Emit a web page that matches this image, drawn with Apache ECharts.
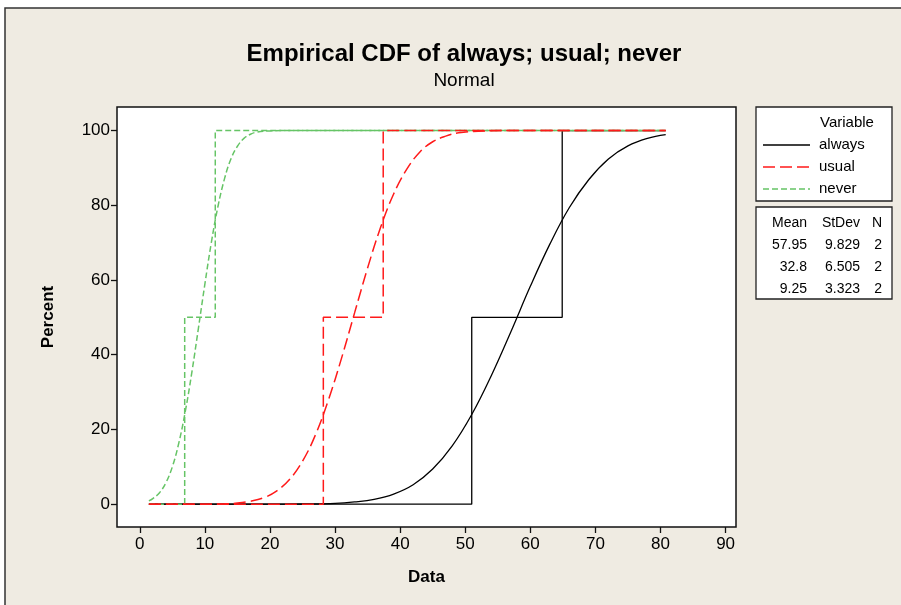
<!DOCTYPE html>
<html>
<head>
<meta charset="utf-8">
<script src="https://cdn.jsdelivr.net/npm/echarts@6/dist/echarts.min.js"></script>
<style>
  html, body { margin: 0; padding: 0; background: #ffffff; }
  #chart { width: 901px; height: 605px; }
</style>
</head>
<body>
<div id="chart"></div>
<script>
// tick labels
const xTicks = [0, 10, 20, 30, 40, 50, 60, 70, 80, 90];
const yTicks = [0, 20, 40, 60, 80, 100];

// empirical CDF steps (two observations each)
const stepY = [0, 0, 50, 50, 100, 100];
const alwaysStepX = [1.4, 51.0, 51.0, 64.9, 64.9, 80.8];
const usualStepX = [1.4, 28.2, 28.2, 37.4, 37.4, 80.8];
const neverStepX = [1.4, 6.9, 6.9, 11.6, 11.6, 80.8];

// fitted normal curves
const alwaysFitX = [1.4, 10, 20, 25, 30, 33, 36, 39, 42, 45, 48, 51, 54, 57, 60, 63, 66, 69, 72, 75, 78, 80.8];
const alwaysFitY = [0, 0, 0, 0.05, 0.2, 0.6, 1.3, 2.7, 5.2, 9.4, 15.6, 24.0, 34.4, 46.1, 58.3, 69.6, 79.4, 86.9, 92.4, 95.9, 97.9, 98.9];
const usualFitX = [1.4, 5, 9, 13, 15, 17, 19, 21, 23, 25, 27, 29, 31, 33, 35, 37, 39, 41, 43, 45, 47, 49, 52, 56, 62, 70, 80.8];
const usualFitY = [0, 0, 0, 0.1, 0.3, 0.8, 1.7, 3.5, 6.6, 11.5, 18.6, 28.0, 39.1, 51.2, 63.2, 74.1, 83.0, 89.6, 94.2, 97.0, 98.5, 99.4, 99.8, 100, 100, 100, 100];
const neverFitX = [1.4, 2, 3, 4, 5, 6, 7, 8, 9, 10, 11, 12, 13, 14, 15, 16, 17, 18, 20, 22, 26, 32, 40, 55, 80.8];
const neverFitY = [0.9, 1.5, 3.0, 5.7, 10.0, 16.4, 24.9, 35.3, 47.0, 58.9, 70.1, 79.6, 87.0, 92.4, 95.8, 97.9, 99.0, 99.6, 99.9, 100, 100, 100, 100, 100, 100];

// legend table
const varNames = ["always", "usual", "never"];
const statHeader = ["Mean", "StDev", "N"];
const meanVals = ["57.95", "32.8", "9.25"];
const stdevVals = ["9.829", "6.505", "3.323"];
const nVals = ["2", "2", "2"];

const FONT = "Liberation Sans, Arial, sans-serif";
const styles = {
  always: { color: "#000000", type: "solid", width: 1.3 },
  usual: { color: "#ff1a1a", type: [12, 5], width: 1.5 },
  never: { color: "#66c466", type: [6, 3], width: 1.5 },
};

const zip = (xs, ys) => xs.map((x, i) => [x, ys[i]]);

function lineSeries(name, xs, ys, fit) {
  return {
    name: name,
    type: "line",
    data: zip(xs, ys),
    showSymbol: false,
    smooth: fit ? 0.4 : false,
    lineStyle: {
      color: styles[name].color,
      type: styles[name].type,
      width: styles[name].width,
    },
    silent: true,
    animation: false,
  };
}

const chart = echarts.init(document.getElementById("chart"));

// legend graphics
const legendGraphics = [
  { type: "rect", shape: { x: 756, y: 107, width: 136, height: 94 },
    style: { fill: "#ffffff", stroke: "#222", lineWidth: 1.3 } },
  { type: "rect", shape: { x: 756, y: 207, width: 136, height: 92 },
    style: { fill: "#ffffff", stroke: "#222", lineWidth: 1.3 } },
  { type: "text", x: 847, y: 123,
    style: { text: "Variable", fill: "#000", font: "15px " + FONT, textAlign: "center", textVerticalAlign: "middle" } },
];
varNames.forEach((n, i) => {
  const y = 145 + i * 22;
  legendGraphics.push({
    type: "line", shape: { x1: 763, y1: y, x2: 810, y2: y },
    style: { stroke: styles[n].color, lineWidth: styles[n].width, lineDash: styles[n].type === "solid" ? null : styles[n].type },
  });
  legendGraphics.push({
    type: "text", x: 819, y: y,
    style: { text: n, fill: "#000", font: "15px " + FONT, textAlign: "left", textVerticalAlign: "middle" },
  });
});
const colRight = [807, 860, 882];
statHeader.forEach((h, j) => {
  legendGraphics.push({
    type: "text", x: colRight[j], y: 223,
    style: { text: h, fill: "#000", font: "14px " + FONT, textAlign: "right", textVerticalAlign: "middle" },
  });
});
[meanVals, stdevVals, nVals].forEach((col, j) => {
  col.forEach((v, i) => {
    legendGraphics.push({
      type: "text", x: colRight[j], y: 245 + i * 22,
      style: { text: v, fill: "#000", font: "14px " + FONT, textAlign: "right", textVerticalAlign: "middle" },
    });
  });
});

const option = {
  animation: false,
  backgroundColor: "#ffffff",
  title: {
    text: "Empirical CDF of always; usual; never",
    subtext: "Normal",
    left: 459,
    textAlign: "center",
    top: 37,
    itemGap: 5,
    textStyle: { fontFamily: FONT, fontSize: 24, fontWeight: "bold", color: "#000" },
    subtextStyle: { fontFamily: FONT, fontSize: 19, color: "#000" },
  },
  graphic: [
    { type: "rect", z: -10, shape: { x: 5, y: 8, width: 910, height: 610 },
      style: { fill: "#efebe2", stroke: "#333", lineWidth: 1.5 } },
    ...legendGraphics,
  ],
  grid: {
    left: 117, top: 107, width: 619, height: 420,
    show: true, backgroundColor: "#ffffff", borderColor: "#111", borderWidth: 1.5,
  },
  xAxis: {
    type: "value",
    min: -3.5, max: 91.6,
    name: "Data",
    nameLocation: "middle",
    nameGap: 42,
    nameTextStyle: { fontFamily: FONT, fontSize: 17, fontWeight: "bold", color: "#000" },
    axisLine: { show: false, onZero: false },
    axisTick: { show: true, length: 6, customValues: xTicks, lineStyle: { color: "#111", width: 1.3 } },
    axisLabel: { customValues: xTicks, margin: 9, fontFamily: FONT, fontSize: 17, color: "#000" },
    splitLine: { show: false },
  },
  yAxis: {
    type: "value",
    min: -6.1, max: 106.3,
    name: "Percent",
    nameLocation: "middle",
    nameGap: 60,
    nameTextStyle: { fontFamily: FONT, fontSize: 17, fontWeight: "bold", color: "#000" },
    axisLine: { show: false, onZero: false },
    axisTick: { show: true, length: 6, customValues: yTicks, lineStyle: { color: "#111", width: 1.3 } },
    axisLabel: { customValues: yTicks, margin: 7, fontFamily: FONT, fontSize: 17, color: "#000" },
    splitLine: { show: false },
  },
  series: [
    lineSeries("always", alwaysStepX, stepY, false),
    lineSeries("always", alwaysFitX, alwaysFitY, true),
    lineSeries("never", neverStepX, stepY, false),
    lineSeries("never", neverFitX, neverFitY, true),
    lineSeries("usual", usualStepX, stepY, false),
    lineSeries("usual", usualFitX, usualFitY, true),
  ],
};

chart.setOption(option);
</script>
</body>
</html>
